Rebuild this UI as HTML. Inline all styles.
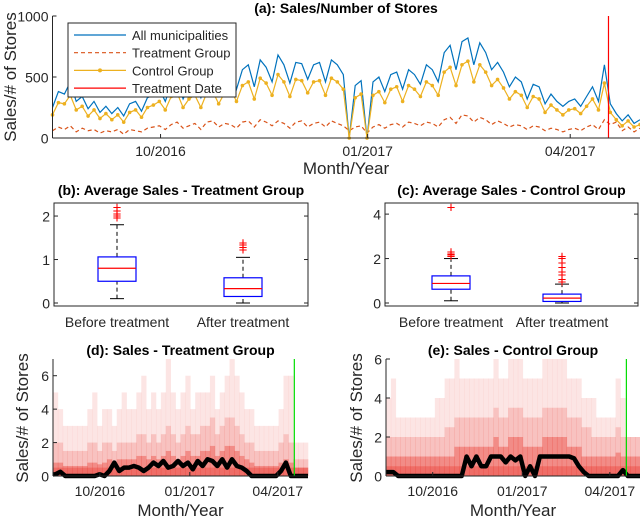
<!DOCTYPE html>
<html><head><meta charset="utf-8">
<style>
body{margin:0;background:#fff;}
svg{display:block;font-family:"Liberation Sans",sans-serif;}
.tick{font-size:14px;fill:#262626;}
.ttl{font-size:14px;font-weight:bold;fill:#000;}
.lab{font-size:17px;fill:#262626;}
.leg{font-size:13px;fill:#262626;}
</style></head>
<body>
<svg id="fig" width="640" height="519" viewBox="0 0 640 519" xmlns="http://www.w3.org/2000/svg">
<g id="pa"></g>
<g id="pb"></g>
<g id="pc"></g>
<g id="pd"></g>
<g id="pe"></g>
</svg>
<script>
// ---------- Data ----------
const totalDays = 261; // Aug 14 2016 .. May 2 2017
const dateTicks = ["10/2016","01/2017","04/2017"];
const dateTickDays = [48,140,230];
const treatmentDay = 247;
const seriesAll = [250,380,360,460,300,340,240,300,210,260,200,250,180,280,300,220,330,350,
400,300,440,480,320,420,460,330,480,500,360,480,520,400,560,600,420,640,580,460,680,600,450,620,610,480,600,620,460,640,600,520,0,430,470,
0,460,500,380,520,540,400,560,520,440,600,560,460,700,760,560,790,820,600,780,700,560,620,540,420,500,460,320,440,420,280,360,300,260,
300,320,260,340,420,300,600,280,200,140,190,120,150];
const seriesControl = [190,290,280,350,230,260,180,230,160,200,150,190,130,210,230,170,250,270,
300,230,340,370,250,320,350,250,370,380,280,370,400,300,430,460,320,490,450,350,520,460,340,480,470,370,460,470,350,490,460,400,0,330,360,
0,350,380,290,400,420,300,430,400,340,460,430,350,540,580,430,600,630,460,600,540,430,480,410,320,380,350,250,340,320,210,270,230,190,
230,240,200,260,320,230,450,210,150,100,140,90,110];
const seriesTreatment = [60,90,70,100,50,80,60,70,40,60,50,70,30,70,60,50,80,90,
100,70,110,130,80,100,120,70,130,140,90,120,110,80,130,140,90,150,130,100,140,120,80,130,140,90,120,130,90,140,120,100,60,90,100,
40,90,110,80,110,120,90,130,120,100,130,120,90,150,170,120,190,180,130,170,150,110,140,120,90,110,100,70,100,90,60,80,70,50,
70,80,60,90,110,70,150,110,130,60,90,50,80];
const yTicksA = [0,500,1000];

const boxCategories = ["Before treatment","After treatment"];
// [lowWhisker, q1, median, q3, highWhisker]
const boxTreatment = [[0.1,0.5,0.8,1.06,1.8],[0,0.15,0.33,0.58,1.05]];
const outTreatment = [[1.95,2.0,2.05,2.12,2.2],[1.22,1.28,1.33,1.38]];
const boxControl = [[0.1,0.62,0.88,1.22,2.0],[0,0.07,0.22,0.4,0.85]];
const outControl = [[2.1,2.15,2.2,2.3,4.3],[0.95,1.05,1.25,1.4,1.6,1.8,2.0,2.1]];
const yTicksB = [0,1,2];
const yTicksC = [0,2,4];

const dMax = [5,4,3,3,3,3,3,4,5,3,4,4,3,4,5,4,4,5,6,4,5,4,5,7,5,4,5,6,4,5,5,5,6,4,5,6,7,6,5,4,4,3,3,3,3,3,4,6,6,2,2,2];
const dMid = [2,2,1.5,1.5,1.5,1.5,1.5,2,2,1.5,2,2,1.5,2,2,2,2,2.5,2.5,2,2.5,2,2.5,3,2.5,2,2.5,3,2.5,2.5,3,3,3.5,2.5,3,3.5,3.5,3,2.5,2,2,1.5,1.5,1.5,1.5,1.5,2,2.5,2,1,1,1];
const dLow = [0.8,0.8,0.6,0.6,0.6,0.6,0.6,0.8,0.8,0.7,0.8,1,0.8,1,1,1,1,1.2,1.2,1,1.2,1,1.2,1.5,1.2,1,1.2,1.5,1.2,1.2,1.5,1.5,1.8,1.2,1.5,1.8,1.8,1.5,1.2,1,0.8,0.6,0.6,0.6,0.6,0.6,0.8,1,0.8,0.5,0.5,0.5];
const dMed = [0.1,0.25,0,0,0,0,0,0,0,0.1,0,0.3,0.8,0.3,0.5,0.5,0.6,0.5,0.3,0.5,0.8,0.6,0.9,0.5,0.6,0.9,0.6,0.8,0.4,0.9,0.6,1,0.9,0.6,1,0.5,1,0.6,0.5,0.3,0,0,0,0,0,0,0.3,0.8,0,0,0,0];
const eMax = [4,5,3,3,3,3,3,3,3,3,4,4,5,5,6,5,5,5,5,5,5,5,6,5,5,6,6,6,5,5,5,5,6,6,6,6,6,5,5,5,4,4,4,3,3,3,3,5,4,2,2,2];
const eMid = [2,2,2,2,2,2,2,2,2,2,2,2,2.5,2.5,3,3,3,3,3,3,3,3,3.5,3,3,3.5,3.5,3.5,3,3,3,3,3.5,3.5,3.5,3.5,3.5,3,3,3,2.5,2.5,2,2,2,2,2,2.5,2,2,2,2];
const eLow = [1,1,1,1,1,1,1,1,1,1,1,1,1,1,1.5,1.5,1.5,1.5,1.5,1.5,1.5,1.5,2,1.5,1.5,2,2,2,1.5,1.5,1.5,1.5,2,2,2,2,2,1.5,1.5,1.5,1,1,1,1,1,1,1,1.2,1,1,1,1];
const eMed = [0.2,0.2,0,0,0,0,0,0,0,0,0,0,0,0,0,0,1,0.5,1,0.5,0.5,1,1,1,0.7,1,0.8,1,0,0.5,0,1,1,1,1,1,1,1,0.9,0.5,0.2,0,0,0,0,0,0,0,0.3,0,0,0];
const yTicksD = [0,2,4,6];

// ---------- helpers ----------
const NS="http://www.w3.org/2000/svg";
function mk(parent,tag,attrs,text){const e=document.createElementNS(NS,tag);for(const k in attrs)e.setAttribute(k,attrs[k]);if(text!==undefined)e.textContent=text;parent.appendChild(e);return e;}
function lin(d0,d1,r0,r1){return v=>r0+(v-d0)*(r1-r0)/(d1-d0);}

function yAxis(g,x,ys,ticks,ySc,len,right){
  const ax=mk(g,'line',{x1:x,x2:x,y1:ys[0],y2:ys[1],stroke:'#262626','stroke-width':1});
  
  
  ticks.forEach(t=>{
    const tl=mk(g,'line',{x1:x,x2:x+len,y1:ySc(t),y2:ySc(t),stroke:'#262626'});
    
    
    if(right!==undefined){mk(g,'line',{x1:right,x2:right-len,y1:ySc(t),y2:ySc(t),stroke:'#262626'});}
    const tx=mk(g,'text',{x:x-4,y:ySc(t)+5.5,'text-anchor':'end',class:'tick'},t);
    
    
  });
}
function xAxis(g,y,x0,x1,dSc,labY){
  const ax=mk(g,'line',{x1:x0,x2:x1,y1:y,y2:y,stroke:'#262626'});
  
  
  dateTickDays.forEach((d,i)=>{
    mk(g,'line',{x1:dSc(d),x2:dSc(d),y1:y,y2:y-4,stroke:'#262626'});
    const tx=mk(g,'text',{x:dSc(d),y:labY,'text-anchor':'middle',class:'tick'},dateTicks[i]);
    
    
  });
}
function title(g,x,y,s){const t=mk(g,'text',{x:x,y:y,'text-anchor':'middle',class:'ttl'},s);
  
  }
function label(g,x,y,s,rot){const t=mk(g,'text',{x:x,y:y,'text-anchor':'middle',class:'lab',transform:rot?`rotate(-90 ${x} ${y})`:''},s);
  
  }

// ---------- Panel A ----------
(function(){
  const g=document.getElementById('pa');
  const L=52.5,R=640,T=16,B=138;
  const xd=lin(0,totalDays,L,R), y=lin(0,1000,B,T);
  const n=seriesAll.length;
  const xi=i=>xd(i*totalDays/(n-1));
  const pts=a=>a.map((v,i)=>xi(i).toFixed(1)+','+y(v).toFixed(1)).join(' ');
  let p=mk(g,'polyline',{points:pts(seriesTreatment),fill:'none',stroke:'#d95319','stroke-width':1.2,'stroke-dasharray':'4,3'});
  
  
  p=mk(g,'polyline',{points:pts(seriesAll),fill:'none',stroke:'#0072bd','stroke-width':1.2});
  
  
  p=mk(g,'polyline',{points:pts(seriesControl),fill:'none',stroke:'#edb120','stroke-width':1.2});
  
  
  seriesControl.forEach((v,i)=>{const c=mk(g,'circle',{cx:xi(i),cy:y(v),r:1.8,fill:'#edb120'});
    
    });
  const tl=mk(g,'line',{x1:xd(treatmentDay),x2:xd(treatmentDay),y1:T,y2:B,stroke:'#ff0000','stroke-width':1.2});
  
  
  yAxis(g,L,[T,B],yTicksA,y,4);
  xAxis(g,B,L,R,xd,156);
  title(g,346,13,'(a): Sales/Number of Stores');
  label(g,346,174,'Month/Year');
  label(g,16,77,'Sales/# of Stores',true);
  // legend
  const lg=mk(g,'g',{});
  
  
  mk(lg,'rect',{x:68,y:23,width:168,height:74,fill:'#fff',stroke:'#262626','stroke-width':1});
  const ent=[['All municipalities','#0072bd',''],['Treatment Group','#d95319','4,3'],['Control Group','#edb120',''],['Treatment Date','#ff0000','']];
  ent.forEach((e,i)=>{
    const yy=35+i*17.7;
    const eg=mk(lg,'g',{});
    
    
    mk(eg,'line',{x1:74,x2:126,y1:yy,y2:yy,stroke:e[1],'stroke-width':1.2,'stroke-dasharray':e[2]});
    if(i===2) mk(eg,'circle',{cx:100,cy:yy,r:2,fill:e[1]});
    mk(eg,'text',{x:132,y:yy+5,class:'leg'},e[0]);
  });
})();

// ---------- Box plots ----------
function boxPanel(id,L,R,T,B,ymax,ticks,stats,outs,ttl,centers){
  const g=document.getElementById(id);
  const y=lin(0,ymax,303,T);
  mk(g,'rect',{x:L,y:T,width:R-L,height:B-T,fill:'none',stroke:'#262626'});
  yAxis(g,L,[T,B],ticks,y,4,R);
  stats.forEach((s,i)=>{
    const cx=centers[i],hw=19,cw=7;
    const bg=mk(g,'g',{});
    
    
    mk(bg,'line',{x1:cx,x2:cx,y1:y(s[0]),y2:y(s[1]),stroke:'#000','stroke-dasharray':'4,3'});
    mk(bg,'line',{x1:cx,x2:cx,y1:y(s[3]),y2:y(s[4]),stroke:'#000','stroke-dasharray':'4,3'});
    mk(bg,'line',{x1:cx-cw,x2:cx+cw,y1:y(s[0]),y2:y(s[0]),stroke:'#000'});
    mk(bg,'line',{x1:cx-cw,x2:cx+cw,y1:y(s[4]),y2:y(s[4]),stroke:'#000'});
    mk(bg,'rect',{x:cx-hw,y:y(s[3]),width:2*hw,height:y(s[1])-y(s[3]),fill:'none',stroke:'#0000ff','stroke-width':1.2});
    mk(bg,'line',{x1:cx-hw,x2:cx+hw,y1:y(s[2]),y2:y(s[2]),stroke:'#ff0000','stroke-width':1.2});
    outs[i].forEach(o=>{
      const t=mk(bg,'text',{x:cx,y:y(o)+5,'text-anchor':'middle',fill:'#ff0000','font-size':'15px'},'+');
      
      
    });
    const tx=mk(g,'text',{x:cx,y:327,'text-anchor':'middle',class:'tick'},boxCategories[i]);
    
    
  });
  title(g,(L+R)/2,195,ttl);
}
boxPanel('pb',54,308,203,306,2.3,yTicksB,boxTreatment,outTreatment,'(b): Average Sales - Treatment Group',[117,243]);
boxPanel('pc',385,638,203,306,4.5,yTicksC,boxControl,outControl,'(c): Average Sales - Control Group',[451,562]);

// ---------- Heatmaps ----------
function heatPanel(id,L,R,T,ymax,mx,md,lo,med,ttl,ylx){
  const g=document.getElementById(id);
  const B=476;
  const xd=lin(0,totalDays,L,R), y=lin(0,ymax,B,T);
  const n=mx.length, w=(R-L)/n;
  const layers=[[mx,0.12],[md,0.18],[lo,0.35]];
  layers.forEach(([arr,op])=>{
    arr.forEach((v,i)=>{
      const r=mk(g,'rect',{x:L+i*w,y:y(v),width:w+0.3,height:B-y(v),fill:'#e8281e','fill-opacity':op});
      
      
    });
  });
  mk(g,'rect',{x:L,y:y(0.5),width:R-L,height:B-y(0.5),fill:'#e8281e','fill-opacity':0.3});
  const pts=med.map((v,i)=>(L+(i+0.5)*w).toFixed(1)+','+y(v).toFixed(1)).join(' ');
  const ml=mk(g,'polyline',{points:`${L},${y(med[0])} `+pts+` ${R},${y(med[n-1])}`,fill:'none',stroke:'#000','stroke-width':4.5,'stroke-linejoin':'round'});
  
  
  const gl=mk(g,'line',{x1:xd(treatmentDay),x2:xd(treatmentDay),y1:T,y2:B,stroke:'#00dd00','stroke-width':1.2});
  
  
  yAxis(g,L,[T,B],yTicksD.filter(t=>t<=ymax),y,4);
  xAxis(g,B,L,R,xd,496);
  title(g,(L+R)/2,355,ttl);
  label(g,(L+R)/2,516,'Month/Year');
  label(g,ylx,418,'Sales/# of Stores',true);
}
heatPanel('pd',53,308,359,7,dMax,dMid,dLow,dMed,'(d): Sales - Treatment Group',28);
heatPanel('pe',386,640,359,6,eMax,eMid,eLow,eMed,'(e): Sales - Control Group',362);
</script>
</body></html>
